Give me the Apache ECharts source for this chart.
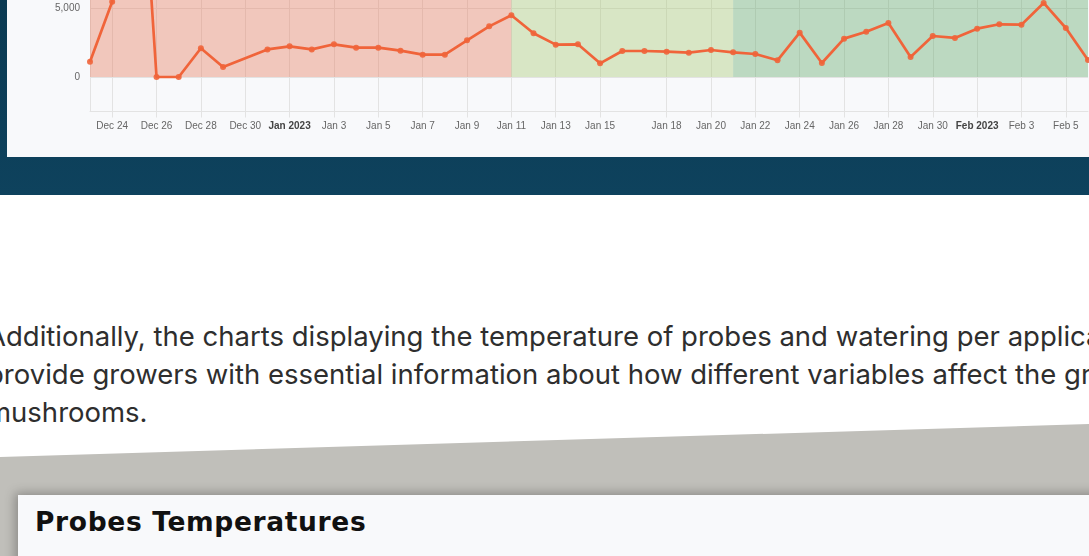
<!DOCTYPE html>
<html>
<head>
<meta charset="utf-8">
<script src="https://cdn.jsdelivr.net/npm/echarts@6/dist/echarts.min.js"></script>
<style>
  html, body { margin: 0; padding: 0; }
  body { width: 1089px; height: 556px; overflow: hidden; position: relative; background: #ffffff; }
  #nav { position: absolute; left: 0; top: 0; width: 1089px; height: 195px;
         background: linear-gradient(#0b3a52, #0e425d); }
  #chart { position: absolute; left: 7px; top: -290px; width: 1100px; height: 447px; background: #f8f9fb; }
  #para { position: absolute; left: -13px; top: 317px; white-space: nowrap;
          font-family: Inter, "Noto Sans", sans-serif; font-size: 27.5px; line-height: 38px; color: #2e2e2e; }
  #shape { position: absolute; left: 0; top: 420px; width: 1089px; height: 136px; background: #c0bfba;
           clip-path: polygon(0 37px, 100% 4px, 100% 100%, 0 100%); }
  #card2 { position: absolute; left: 18px; top: 495px; width: 1100px; height: 100px; background: #f8f9fb;
           box-shadow: -3px -2px 10px rgba(0,0,0,0.28); }
  #title { position: absolute; left: 17px; top: 11px; font-family: "DejaVu Sans", Inter, sans-serif;
           font-weight: 700; font-size: 26.5px; letter-spacing: 0.65px; color: #111; }
</style>
</head>
<body>
<div id="nav"></div>
<div id="chart"></div>
<div id="para">Additionally, the charts displaying the temperature of probes and watering per application<br>provide growers with essential information about how different variables affect the growth of<br>mushrooms.</div>
<div id="shape"></div>
<div id="card2"><div id="title">Probes Temperatures</div></div>
<script>
const dates = ['Dec 23','Dec 24','Dec 25','Dec 26','Dec 27','Dec 28','Dec 29','Dec 30','Dec 31',
  'Jan 1','Jan 2','Jan 3','Jan 4','Jan 5','Jan 6','Jan 7','Jan 8','Jan 9','Jan 10',
  'Jan 11','Jan 12','Jan 13','Jan 14','Jan 15','Jan 16','Jan 17','Jan 18','Jan 19','Jan 20',
  'Jan 21','Jan 22','Jan 23','Jan 24','Jan 25','Jan 26','Jan 27','Jan 28','Jan 29','Jan 30','Jan 31',
  'Feb 1','Feb 2','Feb 3','Feb 4','Feb 5','Feb 6'];
const values = [1100,5450,24500,0,0,2080,725,null,2000,
  2225,2000,2370,2125,2125,1910,1620,1620,2660,3670,
  4470,3165,2345,2370,990,1885,1885,1835,1760,1957,
  1790,1667,1210,3215,1015,2780,3285,3915,1450,2970,2830,
  3505,3820,3790,5365,3550,1230];
const tickDates = ['Dec 24','Dec 26','Dec 28','Dec 30','Jan 1','Jan 3','Jan 5','Jan 7','Jan 9','Jan 11',
  'Jan 13','Jan 15','Jan 18','Jan 20','Jan 22','Jan 24','Jan 26','Jan 28','Jan 30','Feb 1','Feb 3','Feb 5'];
const monthLabels = { 'Jan 1': 'Jan 2023', 'Feb 1': 'Feb 2023' };
const yTicks = [0, 5000, 10000, 15000, 20000, 25000];
const zones = [
  { from: 'Dec 23', to: 'Jan 11', color: 'rgba(228,106,71,0.35)' },
  { from: 'Jan 11', to: 'Jan 21', color: 'rgba(157,195,97,0.35)' },
  { from: 'Jan 21', to: 'Feb 6',  color: 'rgba(77,158,85,0.35)' }
];

const showTick = (i, v) => tickDates.indexOf(dates[i]) >= 0;
const chart = echarts.init(document.getElementById('chart'));
chart.setOption({
  animation: false,
  backgroundColor: '#f8f9fb',
  grid: { left: 83, right: 19, top: 22, bottom: 45.5 },
  xAxis: {
    type: 'category', data: dates, boundaryGap: false,
    axisLine: { onZero: false, lineStyle: { color: '#e3e3e3' } },
    axisTick: { show: true, interval: showTick, length: 6, lineStyle: { color: '#e3e3e3' } },
    splitLine: { show: true, interval: showTick, lineStyle: { color: '#e3e3e3' } },
    axisLabel: {
      interval: showTick, margin: 10, fontSize: 10, color: '#666',
      fontFamily: '"Liberation Sans", Arial, sans-serif',
      formatter: v => monthLabels[v] ? '{b|' + monthLabels[v] + '}' : v,
      rich: { b: { fontWeight: 'bold', color: '#444', fontSize: 10, fontFamily: '"Liberation Sans", Arial, sans-serif' } }
    }
  },
  yAxis: {
    type: 'value', min: -2500, max: 25000,
    axisLine: { show: true, lineStyle: { color: '#e3e3e3' } },
    axisTick: { show: false, customValues: yTicks },
    splitLine: { show: true, lineStyle: { color: '#e3e3e3' } },
    axisLabel: { customValues: yTicks, fontSize: 10, color: '#666', margin: 10,
      fontFamily: '"Liberation Sans", Arial, sans-serif',
      formatter: v => v.toLocaleString('en-US') }
  },
  series: [{
    type: 'line', data: values, connectNulls: true,
    lineStyle: { color: '#f0643a', width: 2.7 },
    itemStyle: { color: '#f0643a', opacity: 0.9 },
    symbol: 'circle', symbolSize: 6, showSymbol: true,
    markArea: {
      silent: true,
      data: zones.map(z => [
        { xAxis: z.from, yAxis: 0, itemStyle: { color: z.color } },
        { xAxis: z.to, yAxis: 25000 }
      ])
    }
  }]
});
</script>
</body>
</html>
